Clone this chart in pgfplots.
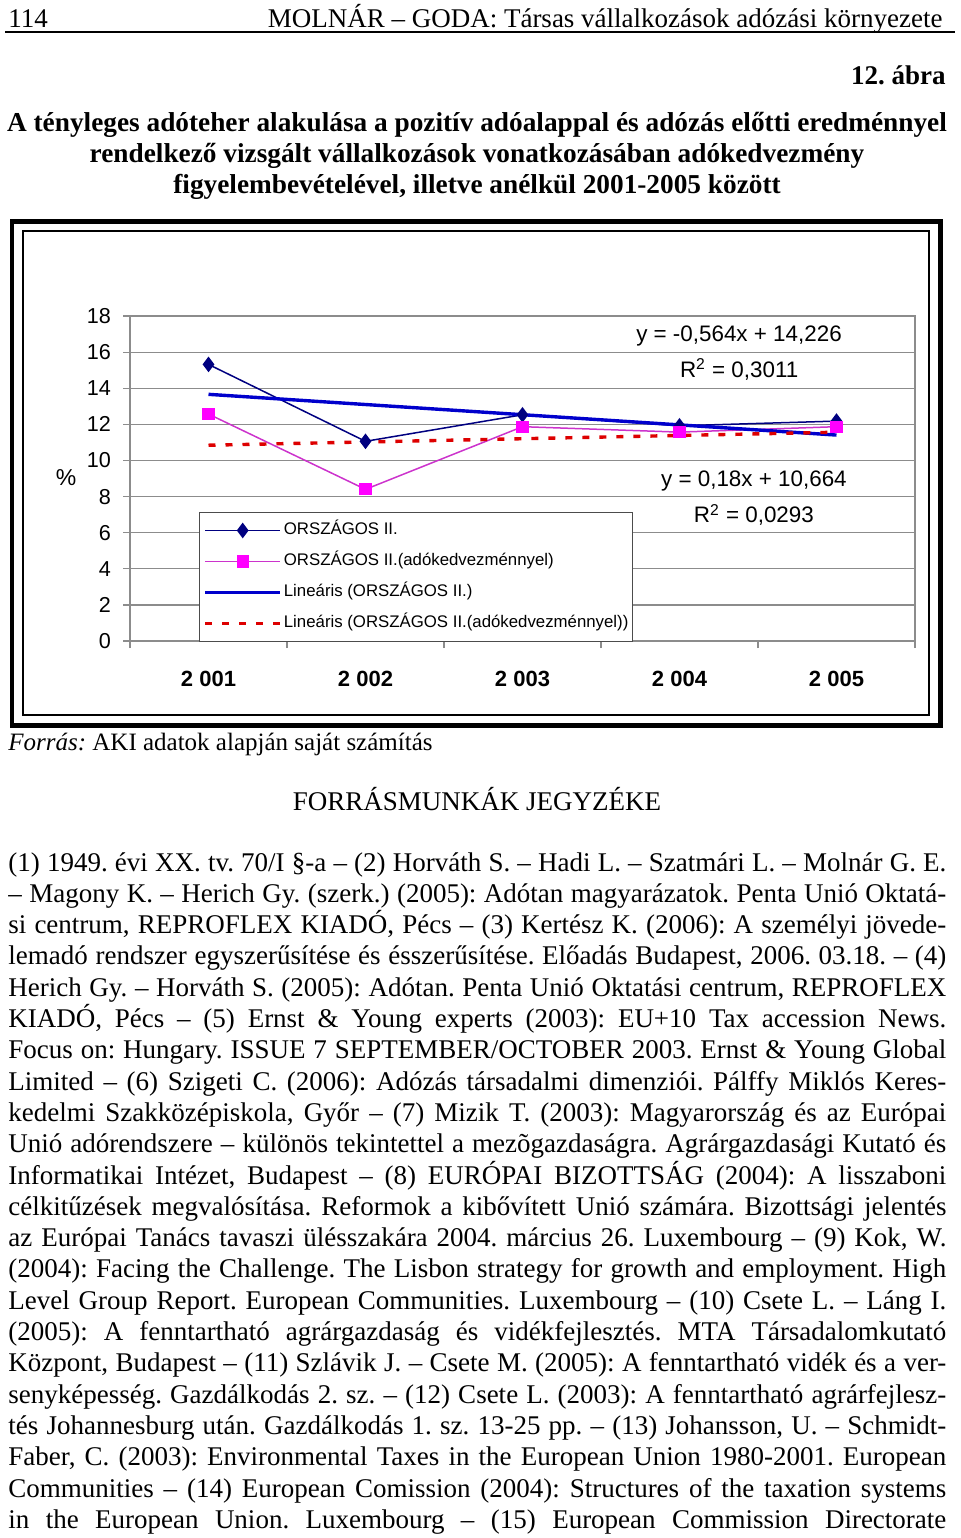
\documentclass[border=0pt]{standalone}
\usepackage{fontspec}
\setmainfont{Liberation Serif}
\setsansfont{Liberation Sans}
\usepackage{pgfplots}
\pgfplotsset{compat=1.18}
\definecolor{navy}{HTML}{000080}
\definecolor{mag}{HTML}{FF00FF}
\definecolor{magline}{HTML}{CC33CC}
\definecolor{tblue}{HTML}{0000CC}
\definecolor{tred}{HTML}{DD0000}
\definecolor{gridc}{HTML}{8C8C8C}
\newcommand\jl[1]{\hbox to 469pt{#1}}
\frenchspacing
\begin{document}
\frenchspacing
\begin{tikzpicture}
\begin{scope}[x=0.5pt,y=-0.5pt]
\useasboundingbox (0,0) rectangle (960,1538);
\tikzset{body/.style={inner sep=0pt,font=\fontsize{13.5}{15.65}\selectfont}}
\node[body,anchor=base west] at (8,27) {114};
\node[body,anchor=base east] at (943,27) {MOLNÁR – GODA: Társas vállalkozások adózási környezete};
\draw[line width=1pt] (5,31.5) -- (955,31.5);
\node[body,anchor=base east,font=\bfseries\fontsize{13.5}{15.65}\selectfont] at (946,84) {12. ábra};
\tikzset{tit/.style={inner sep=0pt,anchor=base,font=\bfseries\fontsize{13.65}{15.65}\selectfont}}
\node[tit] at (477,131) {A tényleges adóteher alakulása a pozitív adóalappal és adózás előtti eredménnyel};
\node[tit] at (477,162) {rendelkező vizsgált vállalkozások vonatkozásában adókedvezmény};
\node[tit] at (477,193) {figyelembevételével, illetve anélkül 2001-2005 között};
% chart frame
\draw[line width=2.3pt] (12,221.5) rectangle (940.5,725.5);
\draw[line width=1pt] (23,231) rectangle (929,715);
\node[inner sep=0pt,font=\sffamily\fontsize{11.5}{13}\selectfont] at (66,478) {\%};
% source
\node[anchor=base west,inner sep=0pt,font=\fontsize{12.5}{14}\selectfont] at (8,750) {\textit{Forrás:} AKI adatok alapján saját számítás};
\node[body,anchor=base] at (477,810) {FORRÁSMUNKÁK JEGYZÉKE};
\node[body,anchor=base west] at (8,871) {\vtop{%
\jl{(1) 1949. évi XX. tv. 70/I §-a – (2) Horváth S. – Hadi L. – Szatmári L. – Molnár G. E.}
\jl{– Magony K. – Herich Gy. (szerk.) (2005): Adótan magyarázatok. Penta Unió Oktatá-}
\jl{si centrum, REPROFLEX KIADÓ, Pécs – (3) Kertész K. (2006): A személyi jövede-}
\jl{lemadó rendszer egyszerűsítése és ésszerűsítése. Előadás Budapest, 2006. 03.18. – (4)}
\jl{Herich Gy. – Horváth S. (2005): Adótan. Penta Unió Oktatási centrum, REPROFLEX}
\jl{KIADÓ, Pécs – (5) Ernst \& Young experts (2003): EU+10 Tax accession News.}
\jl{Focus on: Hungary. ISSUE 7 SEPTEMBER/OCTOBER 2003. Ernst \& Young Global}
\jl{Limited – (6) Szigeti C. (2006): Adózás társadalmi dimenziói. Pálffy Miklós Keres-}
\jl{kedelmi Szakközépiskola, Győr – (7) Mizik T. (2003): Magyarország és az Európai}
\jl{Unió adórendszere – különös tekintettel a mezõgazdaságra. Agrárgazdasági Kutató és}
\jl{Informatikai Intézet, Budapest – (8) EURÓPAI BIZOTTSÁG (2004): A lisszaboni}
\jl{célkitűzések megvalósítása. Reformok a kibővített Unió számára. Bizottsági jelentés}
\jl{az Európai Tanács tavaszi ülésszakára 2004. március 26. Luxembourg – (9) Kok, W.}
\jl{(2004): Facing the Challenge. The Lisbon strategy for growth and employment. High}
\jl{Level Group Report. European Communities. Luxembourg – (10) Csete L. – Láng I.}
\jl{(2005): A fenntartható agrárgazdaság és vidékfejlesztés. MTA Társadalomkutató}
\jl{Központ, Budapest – (11) Szlávik J. – Csete M. (2005): A fenntartható vidék és a ver-}
\jl{senyképesség. Gazdálkodás 2. sz. – (12) Csete L. (2003): A fenntartható agrárfejlesz-}
\jl{tés Johannesburg után. Gazdálkodás 1. sz. 13-25 pp. – (13) Johansson, U. – Schmidt-}
\jl{Faber, C. (2003): Environmental Taxes in the European Union 1980-2001. European}
\jl{Communities – (14) European Comission (2004): Structures of the taxation systems}
\jl{in the European Union. Luxembourg – (15) European Commission Directorate}}};
\end{scope}
\begin{axis}[
  at={(65pt,-320.5pt)}, anchor=south west, scale only axis,
  width=392.5pt, height=162.5pt,
  xmin=0.5, xmax=5.5, ymin=0, ymax=18,
  xtick={0.5,1.5,2.5,3.5,4.5,5.5}, xticklabels={},
  extra x ticks={1,2,3,4,5},
  extra x tick labels={2 001,2 002,2 003,2 004,2 005},
  extra x tick style={major tick length=0pt, xticklabel style={font=\sffamily\bfseries\fontsize{11}{13}\selectfont, yshift=-11.5pt}},
  ytick={0,2,...,18},
  xtick pos=bottom, ytick pos=left,
  ymajorgrids, grid style={draw=gridc, line width=0.6pt},
  axis line style={draw=gridc, line width=0.6pt},
  tick style={draw=gridc, line width=0.6pt},
  tick align=outside, major tick length=3.5pt,
  yticklabel style={font=\sffamily\fontsize{10.8}{12}\selectfont, xshift=-2.5pt},
  /pgf/number format/assume math mode=true,
  legend cell align=left,
  legend style={at={(0.0879,-0.003)}, anchor=south west, draw=black!70, line width=0.5pt, fill=white,
     font=\sffamily\fontsize{8.4}{9}\selectfont, row sep=7.5pt, column sep=1pt, inner xsep=2pt, inner ysep=5pt,
     nodes={inner sep=0pt, text height=6pt, text depth=2pt}},
  legend image code/.code={\draw[mark repeat=2,mark phase=2,#1] plot coordinates {(0pt,0pt)(18.75pt,0pt)(37.5pt,0pt)};},
]
\addplot[navy, line width=0.75pt, mark=diamond*, mark size=3.3pt, mark options={fill=navy,draw=navy,solid}] coordinates {(1,15.32)(2,11.06)(3,12.53)(4,11.92)(5,12.18)};
\addlegendentry{ORSZÁGOS II.}
\addplot[magline, line width=0.75pt, mark=square*, mark size=2.7pt, mark options={fill=mag,draw=mag,solid}] coordinates {(1,12.57)(2,8.40)(3,11.87)(4,11.57)(5,11.87)};
\addlegendentry{ORSZÁGOS II.(adókedvezménnyel)}
\addplot[tblue, line width=1.7pt] coordinates {(1,13.662)(5,11.406)};
\addlegendentry{Lineáris (ORSZÁGOS II.)}
\addplot[tred, line width=1.7pt, dash pattern=on 3.5pt off 5pt] coordinates {(1,10.844)(5,11.564)};
\addlegendentry{Lineáris (ORSZÁGOS II.(adókedvezménnyel))}
\node[font=\sffamily\fontsize{11.2}{13}\selectfont] at (axis cs:4.379,16.9) {y = -0,564x + 14,226};
\node[font=\sffamily\fontsize{11.2}{13}\selectfont] at (axis cs:4.38,15.05) {R\textsuperscript{2} = 0,3011};
\node[font=\sffamily\fontsize{11.2}{13}\selectfont] at (axis cs:4.474,8.85) {y = 0,18x + 10,664};
\node[font=\sffamily\fontsize{11.2}{13}\selectfont] at (axis cs:4.474,6.98) {R\textsuperscript{2} = 0,0293};
\end{axis}
\end{tikzpicture}
\end{document}
